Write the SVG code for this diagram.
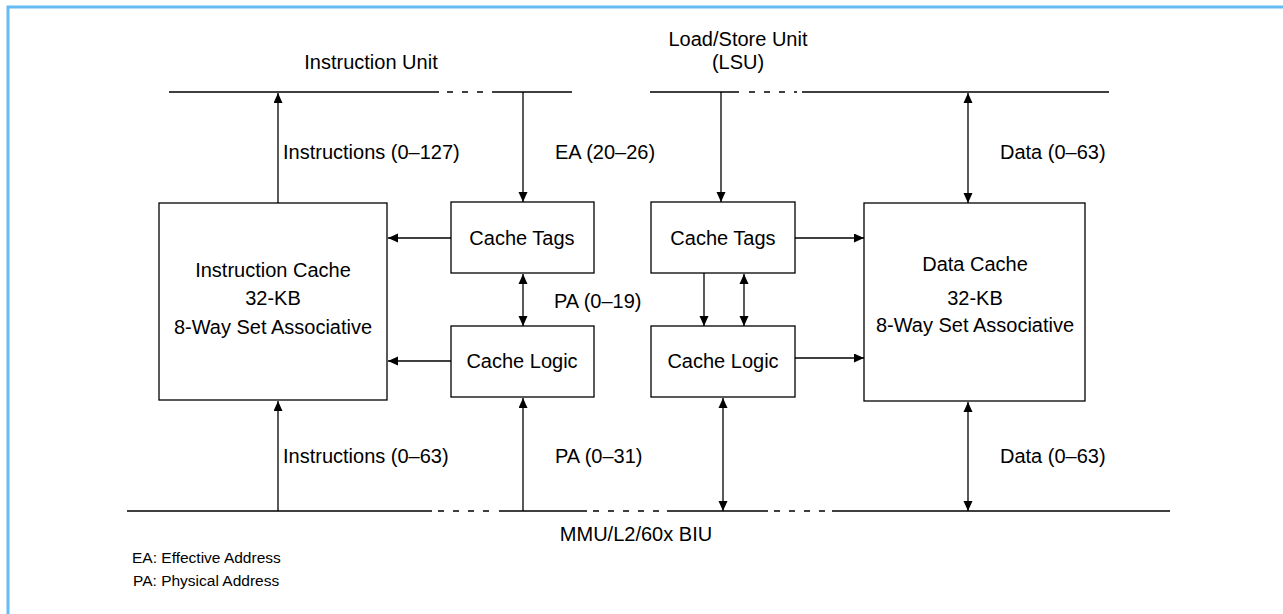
<svg xmlns="http://www.w3.org/2000/svg" width="1283" height="614" viewBox="0 0 1283 614">
<style>
text{font-family:"Liberation Sans",Arial,sans-serif;font-size:20px;fill:#000}
.lg{font-size:15.5px}
.c{text-anchor:middle}
.box{fill:#fff;stroke:#000;stroke-width:1.3}
.ln{stroke:#000;stroke-width:1.3;fill:none}
.ds{stroke:#000;stroke-width:1.3;fill:none;stroke-dasharray:6 9}
.ar{stroke:#000;stroke-width:1.3;fill:none;marker-end:url(#ah)}
.bi{stroke:#000;stroke-width:1.3;fill:none;marker-end:url(#ah);marker-start:url(#ahs)}
</style>
<defs>
<marker id="ah" markerUnits="userSpaceOnUse" markerWidth="12" markerHeight="10" refX="10" refY="4.5" orient="auto"><path d="M0,0 L10,4.5 L0,9 z" fill="#000"/></marker>
<marker id="ahs" markerUnits="userSpaceOnUse" markerWidth="12" markerHeight="10" refX="0" refY="4.5" orient="auto"><path d="M10,0 L0,4.5 L10,9 z" fill="#000"/></marker>
</defs>
<rect width="1283" height="614" fill="#fff"/>
<path d="M8,614 V7 H1283" fill="none" stroke="#66bbf2" stroke-width="3"/>

<g id="buses">
<path class="ln" d="M169,92 H439 M492,92 H572"/>
<path class="ds" d="M447,92 H486"/>
<path class="ln" d="M650,92 H739 M802,92 H1109"/>
<path class="ds" d="M749,92 H797"/>
<path class="ln" d="M127,511 H432 M499,511 H587 M667,511 H768 M832,511 H1170"/>
<path class="ds" d="M438,511 H496 M593,511 H664 M774,511 H830"/>
</g>

<g id="instruction-unit"><text class="c" x="371" y="69">Instruction Unit</text></g>
<g id="lsu"><text class="c" x="738" y="46">Load/Store Unit</text><text class="c" x="738" y="69">(LSU)</text></g>
<g id="biu"><text class="c" x="636" y="541">MMU/L2/60x BIU</text></g>

<g id="icache"><rect class="box" x="159" y="203" width="228" height="197"/>
<text class="c" x="273" y="277">Instruction Cache</text><text class="c" x="273" y="305">32-KB</text><text class="c" x="273" y="334">8-Way Set Associative</text></g>
<g id="itags"><rect class="box" x="451" y="202" width="143" height="71"/><text class="c" x="522" y="245">Cache Tags</text></g>
<g id="ilogic"><rect class="box" x="451" y="326" width="143" height="71"/><text class="c" x="522" y="368">Cache Logic</text></g>
<g id="dtags"><rect class="box" x="651" y="202" width="144" height="71"/><text class="c" x="723" y="245">Cache Tags</text></g>
<g id="dlogic"><rect class="box" x="651" y="326" width="144" height="71"/><text class="c" x="723" y="368">Cache Logic</text></g>
<g id="dcache"><rect class="box" x="864" y="203" width="221" height="198"/>
<text class="c" x="975" y="271">Data Cache</text><text class="c" x="975" y="305">32-KB</text><text class="c" x="975" y="332">8-Way Set Associative</text></g>

<g id="connectors">
<path class="ar" d="M278,203 V93"/>
<path class="ar" d="M523,92 V202"/>
<path class="ar" d="M721,92 V202"/>
<path class="bi" d="M968,93 V203"/>
<path class="ar" d="M451,238 H388"/>
<path class="ar" d="M451,361 H388"/>
<path class="bi" d="M523,274 V326"/>
<path class="ar" d="M795,238 H864"/>
<path class="ar" d="M795,358 H864"/>
<path class="ar" d="M704,273 V326"/>
<path class="bi" d="M744,274 V326"/>
<path class="ar" d="M278,511 V401"/>
<path class="ar" d="M523,511 V398"/>
<path class="bi" d="M723,398 V511"/>
<path class="bi" d="M968,402 V511"/>
</g>

<g id="labels">
<text x="283" y="159">Instructions (0–127)</text>
<text x="555" y="159">EA (20–26)</text>
<text x="1000" y="159">Data (0–63)</text>
<text x="554" y="308">PA (0–19)</text>
<text x="283" y="463">Instructions (0–63)</text>
<text x="555" y="463">PA (0–31)</text>
<text x="1000" y="463">Data (0–63)</text>
</g>
<g id="legend">
<text class="lg" x="132" y="563">EA: Effective Address</text>
<text class="lg" x="133" y="586">PA: Physical Address</text>
</g>
</svg>
